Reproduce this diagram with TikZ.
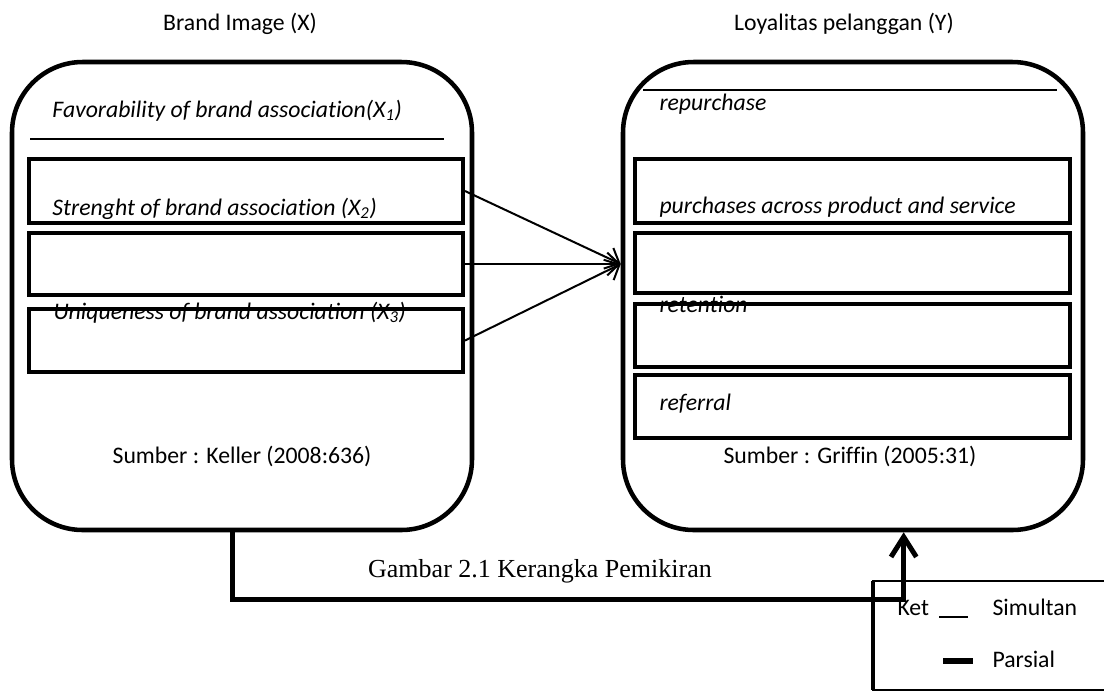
\documentclass[tikz,border=0pt]{standalone}
\usepackage{fontspec}
\setmainfont{Carlito}[Ligatures=NoCommon]
\newfontfamily\capfont{Liberation Serif}
\usetikzlibrary{arrows.meta,fit}
\tikzset{every picture/.style={line width=0.75pt}}

\begin{document}
\begin{tikzpicture}[x=0.75pt,y=0.75pt,yscale=-1,xscale=1,
  bigbox/.style={draw,line width=3.4pt,rounded corners=53pt,inner sep=0pt},
  itembox/.style={draw,line width=3pt,inner sep=0pt},
  lbl/.style={inner sep=0pt,font=\fontsize{17.8}{21}\selectfont},
  item/.style={inner sep=0pt,anchor=base west,font=\fontsize{17.8}{21}\selectfont\itshape},
  simultan/.style={line width=1.5pt,-{Straight Barb[length=9pt,width=17pt]}},
  parsial/.style={line width=3.75pt,-{Straight Barb[length=15pt,width=19pt]}}]
\useasboundingbox (0,0) rectangle (1104,694);

% titles
\node[lbl,anchor=base] (titleX) at (240,30) {Brand Image (X)};
\node[lbl,anchor=base] (titleY) at (844,30) {Loyalitas pelanggan (Y)};

% brand image
\node[bigbox,fit={(12,62) (472,530)}] (brand) {};
\draw[line width=1pt] (30,139) -- (444,139);
\node[itembox,fit={(29,159) (463,223)}] (brand1) {};
\node[itembox,fit={(29,233) (463,295)}] (brand2) {};
\node[itembox,fit={(29,309) (463,372)}] (brand3) {};
\node[item] (favor) at (52,117) {Favorability of brand association(X\textsubscript{1})};
\node[item] (streng) at (52,215) {Strenght of brand association (X\textsubscript{2})};
\node[item] (uniq) at (53,319) {Uniqueness of brand association (X\textsubscript{3})};
\node[lbl,anchor=base] (keller) at (242,463) {Sumber : Keller (2008:636)};

% loyalitas
\node[bigbox,fit={(623,62) (1083,530)}] (loyal) {};
\draw[line width=1pt] (643,90) -- (1057,90);
\node[itembox,fit={(635,159) (1070,223)}] (loyal1) {};
\node[itembox,fit={(635,233) (1070,293)}] (loyal2) {};
\node[itembox,fit={(635,304) (1070,367)}] (loyal3) {};
\node[itembox,fit={(635,375) (1070,438)}] (loyal4) {};
\node[item] (repur) at (659,110) {repurchase};
\node[item] (across) at (659,213) {purchases across product and service};
\node[item] (reten) at (659,312) {retention};
\node[item] (refer) at (659,410) {referral};
\node[lbl,anchor=base] (griffin) at (850,463) {Sumber : Griffin (2005:31)};

% simultan
\coordinate (tip) at (loyal.west |- brand2.east);
\draw[simultan] (brand1.east) -- (tip);
\draw[simultan] (brand2.east) -- (tip);
\draw[simultan] (brand3.east) -- (tip);

% parsial
\draw[parsial] ([xshift=-7]brand.south) -- ++(0,67) -| ([xshift=38]loyal.south);

\node[inner sep=0pt,anchor=base,font=\capfont\fontsize{19.5}{23}\selectfont] (caption) at (540,577) {Gambar 2.1 Kerangka Pemikiran};

% keterangan
\draw[line width=2pt] (1104,581) -- (873,581) -- (873,690) -- (1104,690);
\draw[line width=3.5pt] (873,581) -- (873,690);
\node[lbl,anchor=base west] (ket) at (897,615) {Ket};
\draw[line width=1.1pt] (939,617) -- (968,617);
\node[lbl,anchor=base west] (simul) at (992,615) {Simultan};
\draw[line width=4.5pt] (943,661) -- (973,661);
\node[lbl,anchor=base west] (pars) at (992,667) {Parsial};
\end{tikzpicture}
\end{document}
